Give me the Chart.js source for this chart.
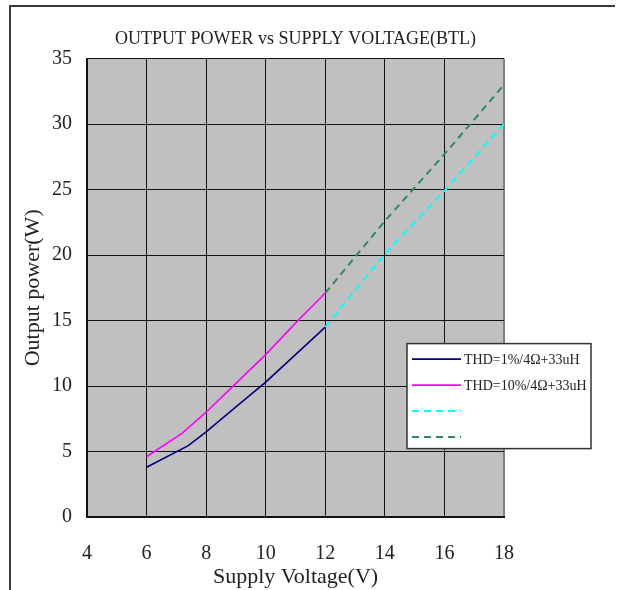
<!DOCTYPE html>
<html>
<head>
<meta charset="utf-8">
<script src="https://cdn.jsdelivr.net/npm/chart.js@4.4.1/dist/chart.umd.min.js"></script>
<style>
  body { margin: 0; background: #fff; }
  #wrap { position: relative; width: 617px; height: 590px; overflow: hidden; }
  #frame { position: absolute; left: 9px; top: 5px; width: 604px; height: 600px;
           border-top: 2px solid #3a3a3a; border-left: 2px solid #3a3a3a; }
  canvas { position: absolute; left: 0; top: 0; }
</style>
</head>
<body>
<div id="wrap">
  <div id="frame"></div>
  <canvas id="powerChart" width="617" height="590"></canvas>
</div>
<script>
// Axis ticks
const voltageTicks = [4, 6, 8, 10, 12, 14, 16, 18];
const powerTicks = [0, 5, 10, 15, 20, 25, 30, 35];

// Measured curves (supply voltage V, output power W)
const thd1Volts = [6, 7.4, 8, 9, 10, 11, 12];
const thd1Power = [3.8, 5.45, 6.5, 8.4, 10.3, 12.4, 14.5];
const thd10Volts = [6, 7.2, 8, 9, 10, 11, 12];
const thd10Power = [4.6, 6.4, 8.0, 10.2, 12.4, 14.8, 17.1];

// Extrapolated (dashed) curves
const thd1ExtVolts = [12, 14, 16, 18];
const thd1ExtPower = [14.5, 20.1, 24.9, 30.0];
const thd10ExtVolts = [12, 14, 16, 18];
const thd10ExtPower = [17.1, 22.6, 27.7, 33.0];

const seriesLabels = ['THD=1%/4Ω+33uH', 'THD=10%/4Ω+33uH', '', ''];

const FONT = '"Liberation Serif", "DejaVu Serif", serif';
const TEXT = '#222';

function toPoints(xs, ys) {
    return xs.map((x, i) => ({ x: x, y: ys[i] }));
}

// Grey plot area behind the grid
const plotBackground = {
    id: 'plotBackground',
    beforeDraw(chart) {
        const { ctx, chartArea: a } = chart;
        ctx.save();
        ctx.fillStyle = '#c0c0c0';
        ctx.fillRect(a.left, a.top, a.width, a.height);
        ctx.restore();
    }
};

// Boxed legend sitting over the lower right corner of the plot
const boxLegend = {
    id: 'boxLegend',
    afterDraw(chart) {
        const { ctx, chartArea: a } = chart;
        const x = a.right - 97, y = a.top + 285, w = 184, h = 105;
        ctx.save();
        ctx.fillStyle = '#fff';
        ctx.fillRect(x, y, w, h);
        ctx.strokeStyle = '#333';
        ctx.lineWidth = 1.5;
        ctx.strokeRect(x, y, w, h);
        ctx.font = '14px ' + FONT;
        ctx.textBaseline = 'middle';
        chart.data.datasets.forEach((ds, i) => {
            const ly = y + 15.5 + i * 26;
            ctx.beginPath();
            ctx.setLineDash(ds.borderDash || []);
            ctx.strokeStyle = ds.borderColor;
            ctx.lineWidth = ds.borderWidth;
            ctx.moveTo(x + 5, ly);
            ctx.lineTo(x + 54, ly);
            ctx.stroke();
            ctx.setLineDash([]);
            ctx.fillStyle = TEXT;
            ctx.fillText(ds.label, x + 57, ly + 1);
        });
        ctx.restore();
    }
};

let ctx = document.getElementById('powerChart').getContext('2d');
let powerChart = new Chart(ctx, {
    type: 'line',
    data: {
        datasets: [
            {
                label: seriesLabels[0],
                data: toPoints(thd1Volts, thd1Power),
                borderColor: '#000080',
                borderWidth: 1.6
            },
            {
                label: seriesLabels[1],
                data: toPoints(thd10Volts, thd10Power),
                borderColor: '#ff00ff',
                borderWidth: 1.6
            },
            {
                label: seriesLabels[2],
                data: toPoints(thd1ExtVolts, thd1ExtPower),
                borderColor: '#00ffff',
                borderWidth: 2,
                borderDash: [7, 5]
            },
            {
                label: seriesLabels[3],
                data: toPoints(thd10ExtVolts, thd10ExtPower),
                borderColor: '#2e8b57',
                borderWidth: 2,
                borderDash: [7, 5]
            }
        ]
    },
    options: {
        responsive: false,
        animation: false,
        layout: { padding: { left: 0, right: 113, top: 0, bottom: 0 } },
        elements: {
            point: { radius: 0 },
            line: { tension: 0, fill: false }
        },
        plugins: {
            legend: { display: false },
            tooltip: { enabled: false },
            title: {
                display: true,
                fullSize: false,
                text: 'OUTPUT POWER vs SUPPLY VOLTAGE(BTL)',
                color: TEXT,
                font: { family: FONT, size: 18, weight: 'normal' },
                padding: { top: 28, bottom: 9 }
            }
        },
        scales: {
            x: {
                type: 'linear',
                min: 4,
                max: 18,
                afterBuildTicks: s => { s.ticks = voltageTicks.map(v => ({ value: v })); },
                afterFit: s => { s.height = 73; },
                ticks: { color: TEXT, font: { family: FONT, size: 20 }, padding: 25, maxRotation: 0 },
                grid: {
                    drawTicks: false,
                    color: c => (c.tick && c.tick.value === 18) ? '#808080' : '#111',
                    lineWidth: c => (c.tick && c.tick.value === 18) ? 2 : 1
                },
                border: { color: '#111', width: 2 },
                title: {
                    display: true,
                    text: 'Supply Voltage(V)',
                    color: TEXT,
                    font: { family: FONT, size: 22 },
                    padding: { top: 0, bottom: 0 }
                }
            },
            y: {
                min: 0,
                max: 35,
                afterBuildTicks: s => { s.ticks = powerTicks.map(v => ({ value: v })); },
                afterFit: s => { s.width = 87; },
                ticks: { color: TEXT, font: { family: FONT, size: 20 }, padding: 15 },
                grid: { drawTicks: false, color: '#111', lineWidth: 1 },
                border: { color: '#111', width: 2 },
                title: {
                    display: true,
                    text: 'Output power(W)',
                    color: TEXT,
                    font: { family: FONT, size: 22 },
                    padding: { top: 20, bottom: 0 }
                }
            }
        }
    },
    plugins: [plotBackground, boxLegend]
});
</script>
</body>
</html>
